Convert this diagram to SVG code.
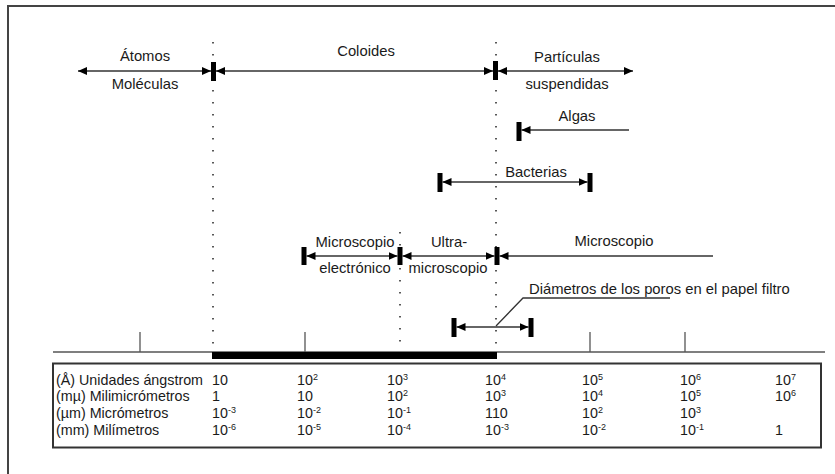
<svg xmlns="http://www.w3.org/2000/svg" width="835" height="474" viewBox="0 0 835 474">
<style>
text{font-family:"Liberation Sans",Arial,sans-serif;font-size:14.8px;fill:#1a1a1a}
#table text{font-size:14.3px}
.c{text-anchor:middle}
.ln{stroke:#333;stroke-width:1.3;fill:none}
.arr{stroke:#333;stroke-width:1.3;fill:none;marker-start:url(#ah);marker-end:url(#ah)}
.bar{fill:#000}
.dot{stroke:#222;stroke-width:1.5;stroke-dasharray:1.5 10.5;fill:none}
#table .sup{font-size:9px}
</style>
<defs>
<marker id="ah" markerWidth="9" markerHeight="8" refX="9" refY="4" orient="auto-start-reverse" markerUnits="userSpaceOnUse"><path d="M0,0 L9,4 L0,8 Z" fill="#000"/></marker>
</defs>
<path d="M8,474 L8,6 L835,6" stroke="#444" stroke-width="2" fill="none"/>
<g id="guides">
<line class="dot" x1="213" y1="42" x2="213" y2="352"/>
<line class="dot" x1="496" y1="42" x2="496" y2="352"/>
<line class="dot" x1="400" y1="232" x2="400" y2="352"/>
</g>
<g id="connectors">
<line class="arr" x1="78" y1="71" x2="211" y2="71"/>
<line class="arr" x1="216" y1="71" x2="493" y2="71"/>
<line class="arr" x1="498" y1="71" x2="633" y2="71"/>
<line class="ln" x1="521.5" y1="130" x2="629" y2="130" style="marker-start:url(#ah)"/>
<line class="arr" x1="442.5" y1="182" x2="587.5" y2="182"/>
<line class="arr" x1="306.5" y1="256" x2="397.5" y2="256"/>
<line class="arr" x1="402.5" y1="256" x2="494.5" y2="256"/>
<line class="ln" x1="499.5" y1="256" x2="713" y2="256" style="marker-start:url(#ah)"/>
<line class="arr" x1="456.5" y1="327" x2="528.5" y2="327"/>
<polyline class="ln" points="496,326 523,298 670,298" stroke-width="1"/>
</g>
<g id="bars">
<rect class="bar" x="211" y="62" width="5" height="19"/>
<rect class="bar" x="493" y="61" width="5" height="19"/>
<rect class="bar" x="516.5" y="122" width="5" height="19"/>
<rect class="bar" x="437.5" y="173" width="5" height="19"/>
<rect class="bar" x="587.5" y="173" width="5" height="19"/>
<rect class="bar" x="301.5" y="247" width="5" height="18"/>
<rect class="bar" x="397.5" y="247" width="5" height="18"/>
<rect class="bar" x="494.5" y="247" width="5" height="18"/>
<rect class="bar" x="451.5" y="318" width="5" height="19"/>
<rect class="bar" x="528.5" y="318" width="5" height="19"/>
</g>
<g id="atomos"><text class="c" x="145" y="61">Átomos</text><text class="c" x="145" y="89">Moléculas</text></g>
<g id="coloides"><text class="c" x="366" y="56">Coloides</text></g>
<g id="particulas"><text class="c" x="567" y="62">Partículas</text><text class="c" x="567" y="89">suspendidas</text></g>
<g id="algas"><text class="c" x="577" y="121">Algas</text></g>
<g id="bacterias"><text class="c" x="536" y="177">Bacterias</text></g>
<g id="microelec"><text class="c" x="355" y="247">Microscopio</text><text class="c" x="355" y="273">electrónico</text></g>
<g id="ultra"><text class="c" x="449" y="247">Ultra-</text><text class="c" x="448" y="273">microscopio</text></g>
<g id="micro"><text class="c" x="614" y="246">Microscopio</text></g>
<g id="poros"><text x="529" y="294">Diámetros de los poros en el papel filtro</text></g>
<g id="axis">
<line x1="53" y1="352" x2="825" y2="352" stroke="#555" stroke-width="1.3"/>
<line x1="140" y1="332" x2="140" y2="352" stroke="#555" stroke-width="1.3"/>
<line x1="305" y1="332" x2="305" y2="352" stroke="#555" stroke-width="1.3"/>
<line x1="590" y1="332" x2="590" y2="352" stroke="#555" stroke-width="1.3"/>
<line x1="685" y1="332" x2="685" y2="352" stroke="#555" stroke-width="1.3"/>
<rect x="212" y="352" width="285" height="7" fill="#000"/>
</g>
<g id="table">
<rect x="53" y="363.5" width="768" height="84" fill="none" stroke="#333" stroke-width="2"/>
<text x="56" y="385">(Å) Unidades ángstrom</text>
<text x="56" y="401">(mµ) Milimicrómetros</text>
<text x="56" y="418">(µm) Micrómetros</text>
<text x="56" y="435">(mm) Milímetros</text>
<text x="212" y="385">10</text>
<text x="297" y="385">10<tspan class="sup" dy="-5">2</tspan></text>
<text x="387" y="385">10<tspan class="sup" dy="-5">3</tspan></text>
<text x="485" y="385">10<tspan class="sup" dy="-5">4</tspan></text>
<text x="582" y="385">10<tspan class="sup" dy="-5">5</tspan></text>
<text x="680" y="385">10<tspan class="sup" dy="-5">6</tspan></text>
<text x="775" y="385">10<tspan class="sup" dy="-5">7</tspan></text>
<text x="212" y="401">1</text>
<text x="297" y="401">10</text>
<text x="387" y="401">10<tspan class="sup" dy="-5">2</tspan></text>
<text x="485" y="401">10<tspan class="sup" dy="-5">3</tspan></text>
<text x="582" y="401">10<tspan class="sup" dy="-5">4</tspan></text>
<text x="680" y="401">10<tspan class="sup" dy="-5">5</tspan></text>
<text x="775" y="401">10<tspan class="sup" dy="-5">6</tspan></text>
<text x="212" y="418">10<tspan class="sup" dy="-5">-3</tspan></text>
<text x="297" y="418">10<tspan class="sup" dy="-5">-2</tspan></text>
<text x="387" y="418">10<tspan class="sup" dy="-5">-1</tspan></text>
<text x="485" y="418">110</text>
<text x="582" y="418">10<tspan class="sup" dy="-5">2</tspan></text>
<text x="680" y="418">10<tspan class="sup" dy="-5">3</tspan></text>
<text x="212" y="435">10<tspan class="sup" dy="-5">-6</tspan></text>
<text x="297" y="435">10<tspan class="sup" dy="-5">-5</tspan></text>
<text x="387" y="435">10<tspan class="sup" dy="-5">-4</tspan></text>
<text x="485" y="435">10<tspan class="sup" dy="-5">-3</tspan></text>
<text x="582" y="435">10<tspan class="sup" dy="-5">-2</tspan></text>
<text x="680" y="435">10<tspan class="sup" dy="-5">-1</tspan></text>
<text x="775" y="435">1</text>
</g>
</svg>
